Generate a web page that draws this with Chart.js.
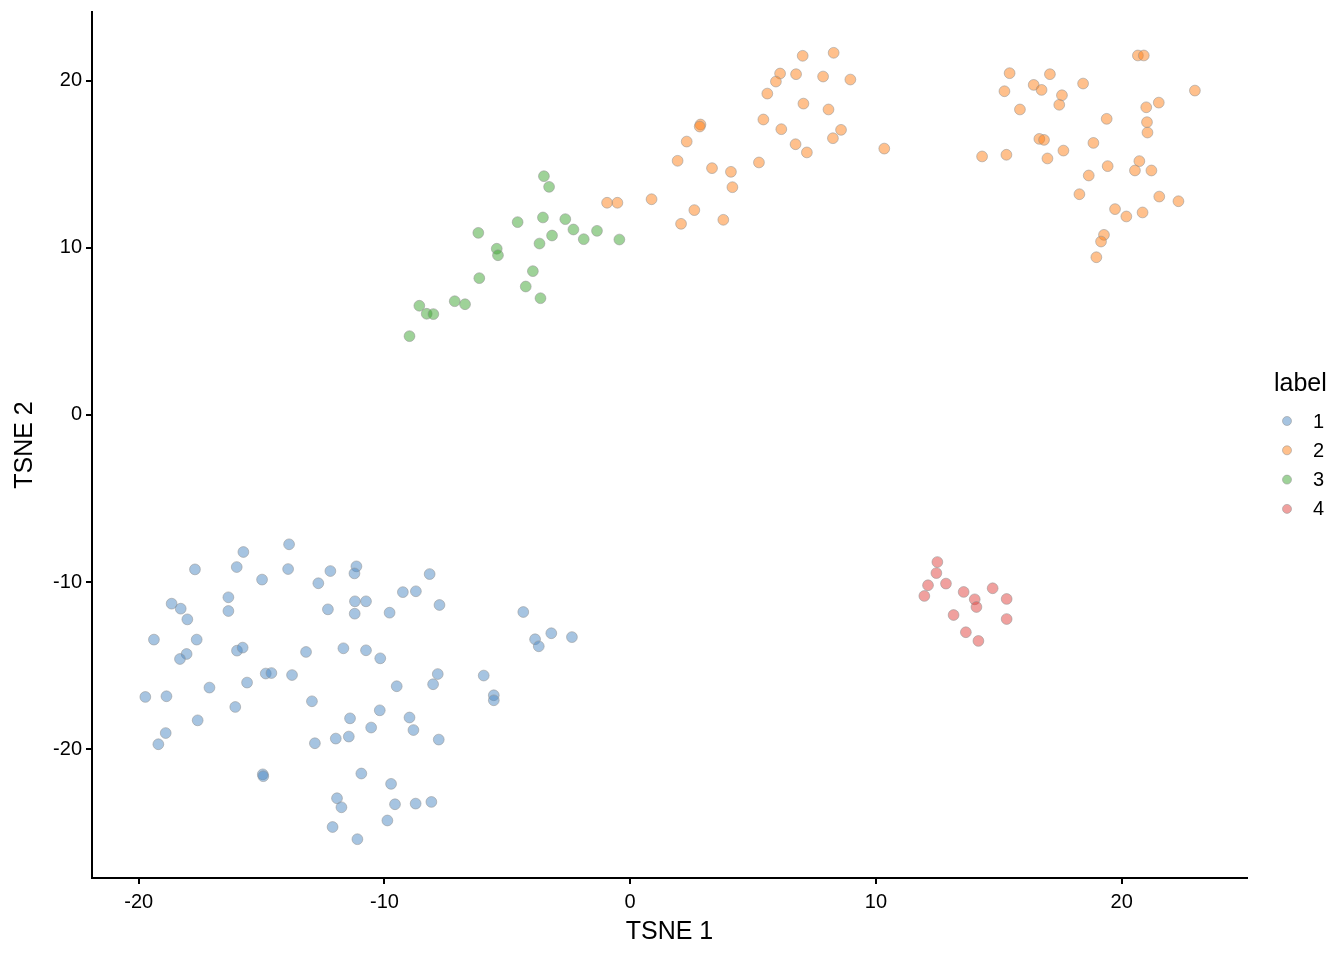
<!DOCTYPE html>
<html>
<head>
<meta charset="utf-8">
<script src="https://cdn.jsdelivr.net/npm/chart.js@4.4.1/dist/chart.umd.min.js"></script>
<style>
  html, body { margin: 0; padding: 0; background: #fff; }
  #wrap { width: 1344px; height: 960px; }
</style>
</head>
<body>
<div id="wrap"><canvas id="tsne" width="1344" height="960"></canvas></div>
<script>
// cluster labels
const clusterLabels = ['1', '2', '3', '4'];
const legendTitle = 'label';
const xTitle = 'TSNE 1';
const yTitle = 'TSNE 2';
const xTicks = [-20, -10, 0, 10, 20];
const yTicks = [-20, -10, 0, 10, 20];

// label 1 (blue)
const label1X = [-15.74,-13.88,-17.71,-16.01,-13.92,-14.98,-12.20,-12.69,-11.14,-11.22,
  -18.66,-18.29,-18.02,-16.35,-16.35,-12.30,-11.20,-10.75,-11.21,-19.38,
  -17.64,-18.05,-18.32,-16.00,-15.77,-13.19,-11.67,-10.75,-10.17,-14.83,
  -14.60,-13.76,-15.59,-17.12,-19.73,-18.87,-16.07,-12.95,-17.60,-11.40,
  -10.19,-10.54,-18.90,-19.20,-12.83,-11.98,-11.45,-14.95,-14.93,-10.94,
  -11.93,-11.75,-12.11,-11.10,-8.16,-9.25,-8.72,-7.76,-9.79,-4.35,
  -3.87,-3.72,-3.21,-2.37,-9.50,-7.83,-8.02,-5.96,-5.55,-5.55,
  -8.98,-8.82,-7.79,-9.73,-9.57,-8.73,-8.09,-9.88];
const label1Y = [-8.20,-7.74,-9.24,-9.10,-9.22,-9.85,-9.34,-10.07,-9.06,-9.48,
  -11.29,-11.59,-12.23,-10.91,-11.73,-11.63,-11.15,-11.15,-11.89,-13.44,
  -13.44,-14.30,-14.60,-14.10,-13.92,-14.18,-13.96,-14.08,-14.56,-15.47,
  -15.44,-15.56,-16.01,-16.31,-16.87,-16.83,-17.47,-17.13,-18.27,-18.15,
  -17.67,-18.70,-19.03,-19.70,-19.64,-19.36,-19.24,-21.50,-21.61,-21.45,
  -22.93,-23.47,-24.65,-25.38,-9.52,-10.60,-10.55,-11.37,-11.83,-11.79,
  -13.42,-13.84,-13.06,-13.29,-16.23,-15.50,-16.11,-15.59,-16.77,-17.07,
  -18.10,-18.85,-19.42,-22.07,-23.29,-23.25,-23.15,-24.26];

// label 2 (orange)
const label2X = [7.02,8.28,6.10,5.93,6.75,7.85,8.96,5.58,7.05,8.07,
  5.42,6.15,8.58,8.25,6.73,7.19,10.34,2.86,2.83,2.30,
  1.93,3.33,4.10,4.16,5.24,0.87,-0.94,-0.52,2.61,2.07,
  3.79,20.66,20.90,15.44,17.08,16.42,16.74,15.23,18.43,17.57,
  17.46,15.86,22.98,21.51,21.00,19.39,21.03,21.05,14.32,15.31,
  16.65,16.84,17.63,16.98,18.85,20.72,20.54,21.21,19.43,18.66,
  18.28,21.53,22.31,19.73,20.19,20.85,19.28,19.16,18.97];
const label2Y = [21.48,21.66,20.42,19.94,20.38,20.24,20.06,19.22,18.62,18.27,
  17.67,17.09,17.05,16.55,16.19,15.70,15.93,17.37,17.25,16.35,
  15.20,14.76,14.54,13.62,15.10,12.90,12.69,12.69,12.25,11.43,
  11.67,21.50,21.50,20.44,20.38,19.74,19.44,19.36,19.82,19.12,
  18.55,18.27,19.40,18.68,18.40,17.71,17.51,16.89,15.46,15.56,
  16.51,16.45,15.81,15.34,16.27,15.18,14.62,14.62,14.88,14.32,
  13.20,13.06,12.78,12.31,11.87,12.11,10.77,10.37,9.43];

// label 3 (green)
const label3X = [-3.51,-3.30,-6.18,-4.58,-3.55,-2.64,-2.31,-3.18,-3.69,-1.89,
  -1.35,-0.44,-5.43,-5.38,-6.14,-3.96,-4.25,-3.65,-7.14,-6.72,
  -8.58,-8.28,-8.01,-8.98];
const label3Y = [14.28,13.64,10.89,11.53,11.81,11.71,11.09,10.73,10.25,10.51,
  11.01,10.49,9.94,9.55,8.18,8.60,7.68,6.98,6.80,6.62,
  6.53,6.05,6.03,4.71];

// label 4 (red)
const label4X = [12.50,12.46,12.12,11.97,12.85,13.57,14.02,14.09,14.75,15.32,
  15.32,13.16,13.66,14.17];
const label4Y = [-8.80,-9.46,-10.19,-10.83,-10.09,-10.59,-11.03,-11.49,-10.37,-11.01,
  -12.21,-11.97,-13.00,-13.52];

const fills = ['rgba(77,137,195,0.5)', 'rgba(255,129,25,0.5)', 'rgba(61,165,49,0.5)', 'rgba(225,65,61,0.5)'];
const edge = 'rgba(150,150,150,0.55)';
const fontFamily = '"Liberation Sans", Arial, sans-serif';

const toPoints = (xs, ys) => xs.map((x, i) => ({ x: x, y: ys[i] }));
const series = [
  toPoints(label1X, label1Y),
  toPoints(label2X, label2Y),
  toPoints(label3X, label3Y),
  toPoints(label4X, label4Y)
];

// ggplot-style legend on the right
const sideLegend = {
  id: 'sideLegend',
  afterDraw(chart) {
    const ctx = chart.ctx;
    ctx.save();
    ctx.fillStyle = '#000';
    ctx.textBaseline = 'alphabetic';
    ctx.font = '25px ' + fontFamily;
    ctx.fillText(legendTitle, 1274, 391);
    ctx.textBaseline = 'middle';
    chart.data.datasets.forEach((ds, i) => {
      const y = 421 + i * 29.3;
      ctx.beginPath();
      ctx.arc(1287, y, 4.5, 0, Math.PI * 2);
      ctx.fillStyle = ds.backgroundColor;
      ctx.fill();
      ctx.lineWidth = 1;
      ctx.strokeStyle = ds.borderColor;
      ctx.stroke();
      ctx.fillStyle = '#000';
      ctx.font = '20px ' + fontFamily;
      ctx.fillText(ds.label, 1313, y + 1);
    });
    ctx.restore();
  }
};

const gridStyle = { display: true, drawOnChartArea: false, drawTicks: true, tickLength: 6, color: '#000', lineWidth: 2 };
const borderStyle = { display: true, color: '#000', width: 2 };
const tickFont = { family: fontFamily, size: 20 };

new Chart(document.getElementById('tsne').getContext('2d'), {
  type: 'scatter',
  data: {
    datasets: series.map((pts, i) => ({
      label: clusterLabels[i],
      data: pts,
      backgroundColor: fills[i],
      borderColor: edge,
      borderWidth: 1,
      pointRadius: 5.4,
      pointHoverRadius: 5.4
    }))
  },
  options: {
    responsive: false,
    animation: false,
    events: [],
    layout: { padding: { top: 12, right: 97, left: 0, bottom: 0 } },
    plugins: { legend: { display: false }, tooltip: { enabled: false } },
    scales: {
      x: {
        type: 'linear',
        position: 'bottom',
        min: -21.9,
        max: 25.1,
        border: borderStyle,
        grid: gridStyle,
        ticks: { color: '#000', font: tickFont, padding: 6 },
        afterBuildTicks: (scale) => { scale.ticks = xTicks.map(v => ({ value: v })); },
        afterFit: (scale) => {
          scale.height = 82;
          scale.paddingLeft = 0;
          scale.paddingRight = 0;
        },
        title: { display: true, text: xTitle, color: '#000', font: { family: fontFamily, size: 25 }, padding: { top: 0, bottom: 13 } }
      },
      y: {
        type: 'linear',
        position: 'left',
        min: -27.7,
        max: 24.1,
        border: borderStyle,
        grid: gridStyle,
        ticks: { color: '#000', font: tickFont, padding: 4 },
        afterBuildTicks: (scale) => { scale.ticks = yTicks.map(v => ({ value: v })); },
        afterFit: (scale) => {
          scale.width = 92;
          scale.paddingTop = 0;
          scale.paddingBottom = 0;
        },
        title: { display: true, text: yTitle, color: '#000', font: { family: fontFamily, size: 25 }, padding: { top: 10, bottom: 0 } }
      }
    }
  },
  plugins: [sideLegend]
});
</script>
</body>
</html>
